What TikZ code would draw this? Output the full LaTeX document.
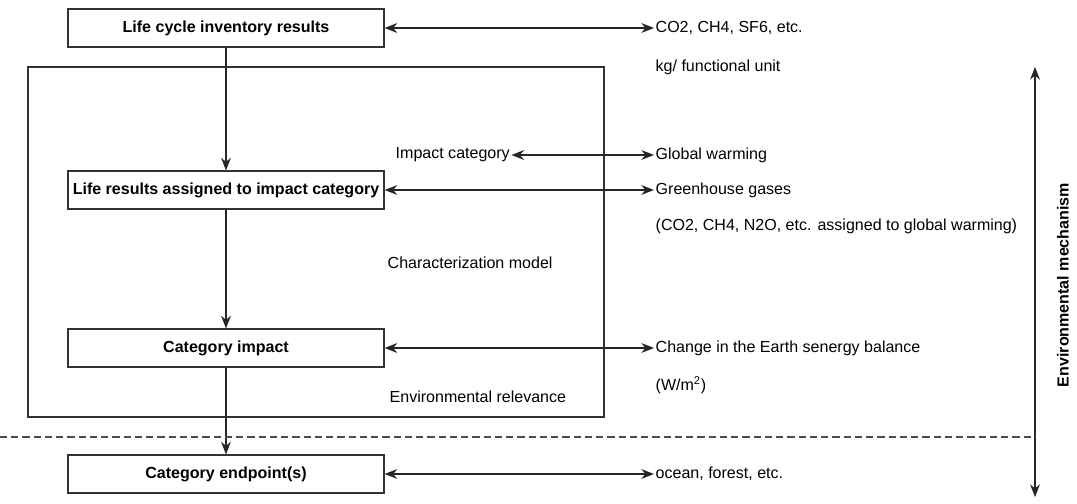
\documentclass[tikz,border=0pt]{standalone}
\usepackage{fontspec}
\setmainfont{Liberation Sans}
\usepackage{tikz}
\usetikzlibrary{arrows.meta,positioning}

\begin{document}
\begin{tikzpicture}[x=0.025cm,y=-0.025cm,
    stage/.style={rectangle, draw=black!80, line width=0.8pt, minimum width=7.9cm, minimum height=0.95cm, font=\bfseries\fontsize{11.4}{13}\selectfont},
    lbl/.style={anchor=west, inner sep=1pt, font=\fontsize{11.4}{13}\selectfont},
    both/.style={{Stealth[length=9pt,width=7pt]}-{Stealth[length=9pt,width=7pt]}, line width=0.8pt, black!85},
    down/.style={-{Stealth[length=9pt,width=7pt]}, line width=0.8pt, black!85}]

                \useasboundingbox (0,0) rectangle (1077,504);

                % frame round the characterization steps
                \draw[black!80, line width=0.8pt] (28,67) rectangle (604,417);

                \node[stage] (lci) at (226,28) {Life cycle inventory results};
                \node[stage] (assign) at (226,190) {Life results assigned to impact category};
                \node[stage] (impact) at (226,348) {Category impact};
                \node[stage] (endpt) at (226,474) {Category endpoint(s)};

                \foreach \s/ \d in {lci/assign,assign/impact,impact/endpt}{
                    \draw[down] (\s) -- (\d);
                }

                % labels on the right
                \node[lbl] (co) at (654,28) {CO2, CH4, SF6, etc.};
                \node[lbl] (kg) at (654,67) {kg/ functional unit};
                \node[lbl] (gw) at (654,155) {Global warming};
                \node[lbl] (ghg) at (654,190) {Greenhouse gases};
                \node[lbl] (ass) at (654,226) {(CO2, CH4, N2O, etc. assigned to global warming)};
                \node[lbl] (bal) at (654,348) {Change in the Earth senergy balance};
                \node[lbl] (wm) at (654,385) {(W/m\textsuperscript{2})};
                \node[lbl] (oce) at (654,474) {ocean, forest, etc.};

                \node[lbl] (cat) at (394,155) {Impact category};
                \node[lbl] (char) at (386,263) {Characterization model};
                \node[lbl] (rel) at (388,397) {Environmental relevance};

                \foreach \s/ \d in {lci/co,assign/ghg,impact/bal,endpt/oce,cat/gw}{
                    \draw[both] (\s.east) -- (\d.west);
                }

                % environmental mechanism
                \coordinate (top) at (1035,67);
                \coordinate (bot) at (1035,497);
                \coordinate (dl) at (0,437);
                \coordinate (dr) at (1035,437);
                \draw[both] (top) -- (bot);
                \draw[dashed, black!70, line width=0.8pt, dash pattern=on 5pt off 3pt] (dl) -- (dr);
                \node[rotate=90, font=\bfseries\fontsize{11.4}{13}\selectfont] (mech) at (1063,285) {Environmental mechanism};

\end{tikzpicture}
\end{document}
